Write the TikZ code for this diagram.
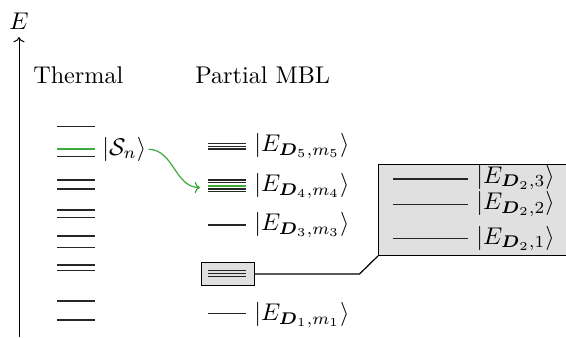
\documentclass[tikz,border=0pt]{standalone}
\usepackage{amsmath, amssymb}
\usepackage{tikz}
\usetikzlibrary{arrows.meta}
\usepackage{xcolor}
\definecolor{lvlgreen}{RGB}{60,170,60}
\definecolor{boxgray}{RGB}{224,224,224}

\begin{document}
\begin{tikzpicture}[x=0.4134pt,y=0.4134pt,yscale=-1,
  level/.style={line width=0.45pt, color=black!85},
  greenlevel/.style={line width=0.9pt, color=lvlgreen},
  ket/.style={anchor=west, inner sep=0.75pt}]
\useasboundingbox (0,0) rectangle (566,337);

%Shape: Axis
\coordinate (axbot) at (19,337);
\coordinate (axtop) at (19,37);
\draw [-{To[length=2.2pt]}] (axbot) -- (axtop);
% Text Node
\node [inner sep=0.75pt] (E) at (19,21) {$E$};
% Text Node
\node [anchor=west, inner sep=0.75pt] (thermal) at (31,75) {Thermal};
% Text Node
\node [anchor=west, inner sep=0.75pt] (pmbl) at (193,75) {Partial MBL};

%Thermal levels
\foreach \y in {126.7,156.7,180,189,210,217.3,236,247.7,265,270.3,301,320}
  \draw [level] (57,\y) -- (95,\y);
\draw [greenlevel] (57,149.3) -- (95,149.3);
% Text Node
\node [ket] (Sn) at (100,149.3) {$|\mathcal{S}_n\rangle$};

%Partial MBL levels
\foreach \y in {143.5,146.3,149}
  \draw [level] (208,\y) -- (246,\y);
\foreach \y in {180,182.5,189,191.5}
  \draw [level] (208,\y) -- (246,\y);
\draw [greenlevel] (208,186.2) -- (246,186.2);
\draw [level] (208,225) -- (246,225);
\draw [level] (208,313.5) -- (246,313.5);
% Text Node
\node [ket] (E5) at (252,146.3) {$|E_{\boldsymbol{D}_5,m_5}\rangle$};
% Text Node
\node [ket] (E4) at (252,186.2) {$|E_{\boldsymbol{D}_4,m_4}\rangle$};
% Text Node
\node [ket] (E3) at (252,225) {$|E_{\boldsymbol{D}_3,m_3}\rangle$};
% Text Node
\node [ket] (E1) at (252,315) {$|E_{\boldsymbol{D}_1,m_1}\rangle$};

%Shape: small box
\node [draw, fill=boxgray, minimum width=21.9pt, minimum height=9.2pt, inner sep=0pt] (small) at (227.5,274) {};
\foreach \y in {270.7,273.5,276.7}
  \draw [level] (208,\y) -- (246,\y);

%Shape: zoom box
\node [draw, fill=boxgray, anchor=north west, minimum width=84pt, minimum height=37.6pt, inner sep=0pt] (big) at (378,164) {};
\foreach \y in {179,204.5,238.5}
  \draw [level] (393,\y) -- (468,\y);
% Text Node
\node [ket, inner sep=0pt] (D23) at (476,177.5) {$|E_{\boldsymbol{D}_2,3}\rangle$};
% Text Node
\node [ket, inner sep=0pt] (D22) at (476,204) {$|E_{\boldsymbol{D}_2,2}\rangle$};
% Text Node
\node [ket, inner sep=0pt] (D21) at (476,238.5) {$|E_{\boldsymbol{D}_2,1}\rangle$};

%Straight Lines
\coordinate (bend) at (359.5,274);
\draw [line width=0.5pt] (small.east) -- (bend) -- (big.south west);

%Curve Lines
\coordinate (g4) at (200,187.5);
\draw [lvlgreen, line width=0.5pt, -{To[length=2.2pt]}] (Sn.east) to [out=0, in=180] (g4);

\end{tikzpicture}
\end{document}
